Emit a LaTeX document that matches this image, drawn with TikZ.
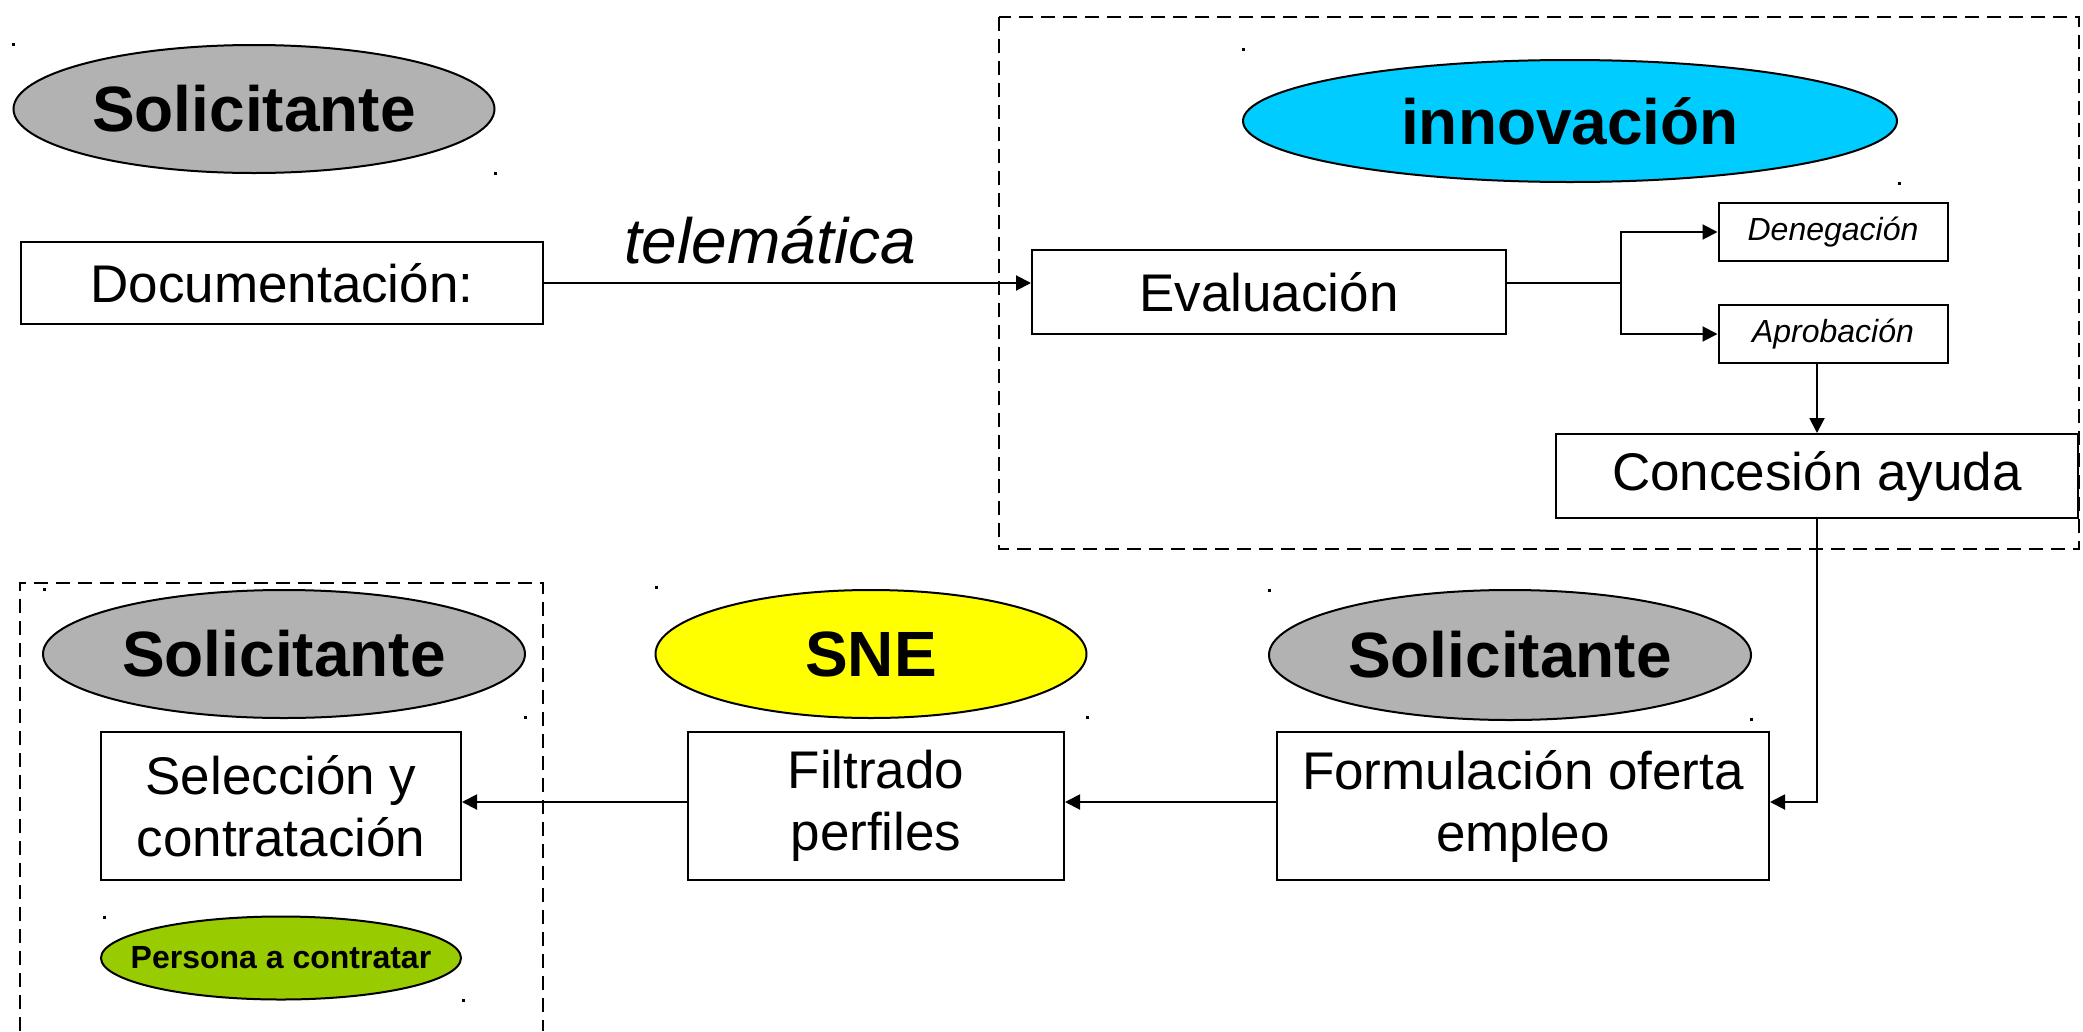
\documentclass[tikz,border=0pt]{standalone}
\usepackage{fontspec}
\setmainfont{Liberation Sans}
\usetikzlibrary{shapes.geometric,arrows.meta}
\definecolor{grayfill}{HTML}{B2B2B2}
\definecolor{cyanfill}{HTML}{00CCFF}
\definecolor{yellowfill}{HTML}{FFFF00}
\definecolor{greenfill}{HTML}{99CC00}
\begin{document}
\begin{tikzpicture}[x=1pt,y=-1pt,
  oval/.style={ellipse,draw,line width=2pt,inner sep=0pt,font=\fontsize{64}{76}\selectfont\bfseries},
  smalloval/.style={ellipse,draw,line width=2pt,inner xsep=-30pt,inner ysep=0pt,font=\fontsize{32}{38}\selectfont\bfseries},
  box/.style={rectangle,draw,line width=2pt,fill=white,inner sep=0pt,align=center,font=\fontsize{53}{62}\selectfont},
  smallbox/.style={rectangle,draw,line width=2pt,fill=white,inner sep=0pt,align=center,font=\fontsize{32}{38}\selectfont\itshape},
  dashbox/.style={line width=2.5pt,dash pattern=on 14pt off 8pt},
  conn/.style={line width=2pt},
  arr/.style={line width=2pt,-{Triangle[length=15pt,width=15pt]}},
  speck/.style={fill=black,minimum size=3pt,inner sep=0pt,rectangle}]
\fill[white] (0,0) rectangle (2083,1031);
\useasboundingbox (0,0) rectangle (2083,1031);

% dashed frames
\draw[dashbox] (999,17) rectangle (2079,549);
\draw[dashbox] (20,1031) -- (20,583) -- (543,583) -- (543,1031);

% top left
\node[oval,fill=grayfill,minimum width=481pt,minimum height=128pt] (sol1) at (254,109) {Solicitante};
\node[box,minimum width=522pt,minimum height=82pt] (doc) at (282,283) {Documentación:};
\node[anchor=base,font=\fontsize{64}{76}\selectfont\itshape] (tele) at (770,263) {telemática};

% top right
\node[oval,fill=cyanfill,minimum width=654pt,minimum height=122pt] (innov) at (1570,121) {innovación};
\node[box,minimum width=474pt,minimum height=84pt] (eval) at (1269,292) {Evaluación};
\node[smallbox,minimum width=229pt,minimum height=58pt] (den) at (1833,232) {Denegación};
\node[smallbox,minimum width=229pt,minimum height=58pt] (apr) at (1833,334) {Aprobación};
\node[box,minimum width=522pt,minimum height=84pt] (conc) at (1817,476) {Concesión ayuda};
\coordinate (br) at (1621,283);

% bottom row
\node[oval,fill=grayfill,minimum width=482pt,minimum height=130pt] (sol3) at (1510,655) {Solicitante};
\node[oval,fill=yellowfill,minimum width=431pt,minimum height=128pt] (sne) at (871,654) {SNE};
\node[oval,fill=grayfill,minimum width=482pt,minimum height=128pt] (sol2) at (284,654) {Solicitante};
\node[box,minimum width=492pt,minimum height=148pt] (form) at (1523,806) {Formulación oferta\\empleo};
\node[box,minimum width=376pt,minimum height=148pt] (filt) at (876,806) {Filtrado\\perfiles};
\node[box,minimum width=360pt,minimum height=148pt] (sel) at (281,806) {Selección y\\contratación};
\node[smalloval,fill=greenfill,minimum width=360pt,minimum height=83pt] (pers) at (281,958) {Persona a contratar};

% specks
\node[speck] (s1) at (13,44) {};
\node[speck] (s2) at (495,173) {};
\node[speck] (s3) at (1243,49) {};
\node[speck] (s4) at (1899,183) {};
\node[speck] (s5) at (656,587) {};
\node[speck] (s6) at (1087,717) {};
\node[speck] (s7) at (1269,590) {};
\node[speck] (s8) at (1751,719) {};
\node[speck] (s9) at (44,589) {};
\node[speck] (s10) at (525,717) {};
\node[speck] (s11) at (104,917) {};
\node[speck] (s12) at (463,1000) {};

% connectors
\draw[arr] (doc.east) -- (eval.west |- doc.east);
\draw[conn] (eval.east |- br) -- (br);
\draw[arr] (br) |- (den.west);
\draw[arr] (br) |- (apr.west);
\draw[arr] (apr.south -| conc.north) -- (conc.north);
\draw[arr] (conc.south) |- ([yshift=4pt]form.east);
\draw[arr] ([yshift=4pt]form.west) -- ([yshift=4pt]filt.east);
\draw[arr] ([yshift=4pt]filt.west) -- ([yshift=4pt]sel.east);
\end{tikzpicture}
\end{document}
